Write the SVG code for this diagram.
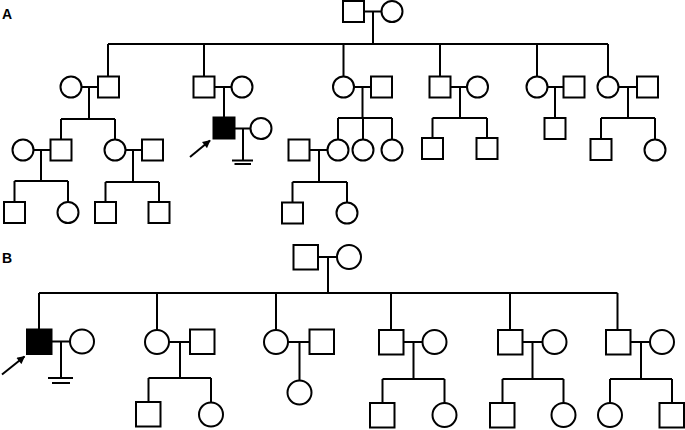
<svg xmlns="http://www.w3.org/2000/svg" width="685" height="430" viewBox="0 0 685 430">
<defs>
<style>
.s{fill:#fff;stroke:#000;stroke-width:2}
.a{fill:#000;stroke:#000;stroke-width:2}
.c{fill:none;stroke:#000;stroke-width:2}
.lbl{font-family:"Liberation Sans",Arial,sans-serif;font-weight:bold;font-size:14px;fill:#000}
</style>
<marker id="ah" viewBox="0 0 10 10" refX="9" refY="5" markerWidth="9" markerHeight="8" markerUnits="userSpaceOnUse" orient="auto">
<path d="M0,0 L10,5 L0,10 Z" fill="#000"/>
</marker>
</defs>
<rect width="685" height="430" fill="#fff"/>
<text class="lbl" x="2" y="19">A</text>
<text class="lbl" x="2" y="263">B</text>

<g id="connectors" class="c">
<path d="M364,11.5H381.5M373,11.5V44M108,44H608M108,44V76.5M204,44V76.5M343.5,44V76.5M440,44V76.5M537,44V76.5M608,44V76.5"/>
<path d="M81.5,87H98M89,87V119M61,119H115M61,119V139.5M115,119V139.5"/>
<path d="M33.5,150H50.5M41,150V181M14.5,181H68M14.5,181V202M68,181V202"/>
<path d="M125.5,150H142M133,150V182M105.5,182H159M105.5,182V202M159,182V202"/>
<path d="M214.5,87H231.5M224,87V117.5M234.5,128.5H250.5M243,128.5V160.5M232,160.5H253M234.5,164H251"/>
<path d="M354,87H371M362.5,87V118M338,118H392M338,118V139.5M363,118V139.5M392,118V139.5"/>
<path d="M309.5,150H327.5M319,150V182M292.5,182H347M292.5,182V202.5M347,182V202.5"/>
<path d="M450.5,87H467M460,87V118M432.5,118H487M432.5,118V138M487,118V138"/>
<path d="M547.5,87H563.5M555,87V118"/>
<path d="M618.5,87H637M628,87V118M601,118H655M601,118V139M655,118V139.5"/>
<path d="M318,257H337M328,257V293M39,293H617.5M39,293V329.5M157,293V330M276,293V330M391,293V330M510,293V330M617.5,293V330"/>
<path d="M51.5,341.5H70M61,341.5V378M48,378H73M52,383H70"/>
<path d="M169,342H190M180,342V378M148.5,378H211M148.5,378V402M211,378V402.5"/>
<path d="M288,342H309.5M299.5,342V380.5"/>
<path d="M403.5,342H422.5M413.5,342V379M382.5,379H444.5M382.5,379V403M444.5,379V403"/>
<path d="M522.5,342H542.5M532.5,342V379M502.5,379H563.5M502.5,379V403M563.5,379V403"/>
<path d="M630.5,342H650M641,342V379M610,379H672M610,379V403M672,379V403"/>
<line x1="190" y1="157" x2="210" y2="140.5" marker-end="url(#ah)"/>
<line x1="2" y1="374.5" x2="24.5" y2="356.5" marker-end="url(#ah)"/>
</g>

<g id="A-I1"><rect class="s" x="343" y="1" width="21" height="21"/></g>
<g id="A-I2"><circle class="s" cx="392" cy="11.5" r="10.5"/></g>

<g id="A-II1"><circle class="s" cx="71" cy="87" r="10.5"/></g>
<g id="A-II2"><rect class="s" x="98" y="76.5" width="21" height="21"/></g>
<g id="A-II3"><rect class="s" x="193.5" y="76.5" width="21" height="21"/></g>
<g id="A-II4"><circle class="s" cx="242" cy="87" r="10.5"/></g>
<g id="A-II5"><circle class="s" cx="343.5" cy="87" r="10.5"/></g>
<g id="A-II6"><rect class="s" x="371" y="76.5" width="21" height="21"/></g>
<g id="A-II7"><rect class="s" x="429.5" y="76.5" width="21" height="21"/></g>
<g id="A-II8"><circle class="s" cx="477.5" cy="87" r="10.5"/></g>
<g id="A-II9"><circle class="s" cx="537" cy="87" r="10.5"/></g>
<g id="A-II10"><rect class="s" x="563.5" y="76.5" width="21" height="21"/></g>
<g id="A-II11"><circle class="s" cx="608" cy="87" r="10.5"/></g>
<g id="A-II12"><rect class="s" x="637" y="76.5" width="21" height="21"/></g>

<g id="A-III1"><circle class="s" cx="23" cy="150" r="10.5"/></g>
<g id="A-III2"><rect class="s" x="50.5" y="139.5" width="21" height="21"/></g>
<g id="A-III3"><circle class="s" cx="115" cy="150" r="10.5"/></g>
<g id="A-III4"><rect class="s" x="142" y="139.5" width="21" height="21"/></g>
<g id="A-III5-proband"><rect class="a" x="213.5" y="117.5" width="21" height="21"/></g>
<g id="A-III6"><circle class="s" cx="261" cy="128.5" r="10.5"/></g>
<g id="A-III7"><rect class="s" x="288.5" y="139.5" width="21" height="21"/></g>
<g id="A-III8"><circle class="s" cx="338" cy="150" r="10.5"/></g>
<g id="A-III9"><circle class="s" cx="363" cy="150" r="10.5"/></g>
<g id="A-III10"><circle class="s" cx="392" cy="150" r="10.5"/></g>
<g id="A-III11"><rect class="s" x="422" y="138" width="21" height="21"/></g>
<g id="A-III12"><rect class="s" x="476.5" y="138" width="21" height="21"/></g>
<g id="A-III13"><rect class="s" x="544.5" y="118" width="21" height="21"/></g>
<g id="A-III14"><rect class="s" x="590.5" y="139" width="21" height="21"/></g>
<g id="A-III15"><circle class="s" cx="655" cy="150" r="10.5"/></g>

<g id="A-IV1"><rect class="s" x="4" y="202" width="21" height="21"/></g>
<g id="A-IV2"><circle class="s" cx="68" cy="212.5" r="10.5"/></g>
<g id="A-IV3"><rect class="s" x="95" y="202" width="21" height="21"/></g>
<g id="A-IV4"><rect class="s" x="148.5" y="202" width="21" height="21"/></g>
<g id="A-IV5"><rect class="s" x="282" y="202.5" width="21" height="21"/></g>
<g id="A-IV6"><circle class="s" cx="347" cy="213" r="10.5"/></g>

<g id="B-I1"><rect class="s" x="293.5" y="245" width="24.5" height="24.5"/></g>
<g id="B-I2"><circle class="s" cx="349" cy="257" r="12"/></g>

<g id="B-II1-proband"><rect class="a" x="27" y="329.5" width="24.5" height="24.5"/></g>
<g id="B-II2"><circle class="s" cx="82" cy="341.5" r="12"/></g>
<g id="B-II3"><circle class="s" cx="157" cy="342" r="12"/></g>
<g id="B-II4"><rect class="s" x="190" y="329.5" width="24.5" height="24.5"/></g>
<g id="B-II5"><circle class="s" cx="276" cy="342" r="12"/></g>
<g id="B-II6"><rect class="s" x="309.5" y="329.5" width="24.5" height="24.5"/></g>
<g id="B-II7"><rect class="s" x="379" y="330" width="24.5" height="24.5"/></g>
<g id="B-II8"><circle class="s" cx="434.5" cy="342" r="12"/></g>
<g id="B-II9"><rect class="s" x="498" y="330" width="24.5" height="24.5"/></g>
<g id="B-II10"><circle class="s" cx="554.5" cy="342" r="12"/></g>
<g id="B-II11"><rect class="s" x="606" y="330" width="24.5" height="24.5"/></g>
<g id="B-II12"><circle class="s" cx="662" cy="342" r="12"/></g>

<g id="B-III1"><rect class="s" x="136" y="402" width="24.5" height="24.5"/></g>
<g id="B-III2"><circle class="s" cx="211" cy="414.5" r="12"/></g>
<g id="B-III3"><circle class="s" cx="299.5" cy="392.5" r="12"/></g>
<g id="B-III4"><rect class="s" x="370" y="403" width="24.5" height="24.5"/></g>
<g id="B-III5"><circle class="s" cx="444.5" cy="415" r="12"/></g>
<g id="B-III6"><rect class="s" x="490" y="403" width="24.5" height="24.5"/></g>
<g id="B-III7"><circle class="s" cx="563.5" cy="415" r="12"/></g>
<g id="B-III8"><circle class="s" cx="610" cy="415" r="12"/></g>
<g id="B-III9"><rect class="s" x="659.5" y="403" width="24.5" height="24.5"/></g>
</svg>
